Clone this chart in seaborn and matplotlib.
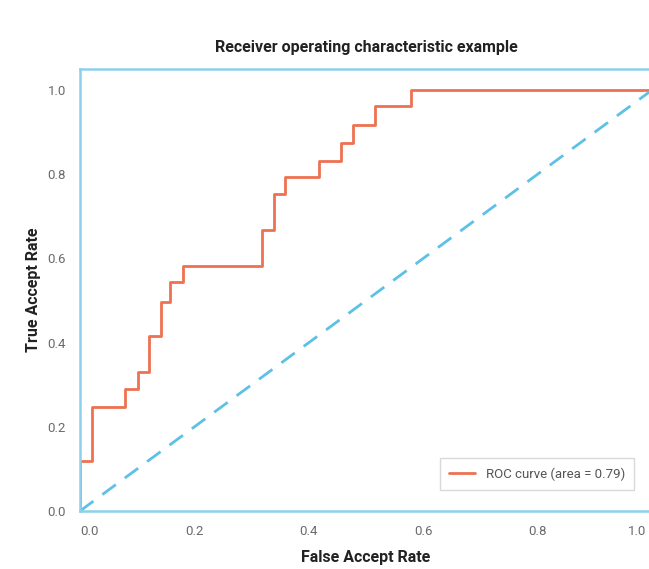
import matplotlib
matplotlib.use("Agg")
import matplotlib.pyplot as plt
import matplotlib.transforms as mtransforms
import seaborn as sns
import pandas as pd

# ROC curve vertices (False Accept Rate, True Accept Rate)
fpr = [0.0, 0.0, 0.021, 0.021, 0.079, 0.079, 0.101, 0.101, 0.121, 0.121,
       0.142, 0.142, 0.157, 0.157, 0.180, 0.180, 0.319, 0.319, 0.339, 0.339,
       0.358, 0.358, 0.418, 0.418, 0.456, 0.456, 0.478, 0.478, 0.516, 0.516,
       0.578, 0.578, 1.0]
tpr = [0.0, 0.118, 0.118, 0.247, 0.247, 0.289, 0.289, 0.331, 0.331, 0.415,
       0.415, 0.496, 0.496, 0.543, 0.543, 0.583, 0.583, 0.667, 0.667, 0.752,
       0.752, 0.794, 0.794, 0.832, 0.832, 0.875, 0.875, 0.916, 0.916, 0.963,
       0.963, 1.0, 1.0]
chance_x = [0.0, 1.0]
chance_y = [0.0, 1.0]
roc_auc = 0.79
xticks = [0.0, 0.2, 0.4, 0.6, 0.8, 1.0]
yticks = [0.0, 0.2, 0.4, 0.6, 0.8, 1.0]

sns.set_theme(style="white")
plt.rcParams["font.family"] = ["Roboto", "DejaVu Sans"]

fig = plt.figure(figsize=(6.49, 5.69), dpi=100)
ax = fig.add_axes([80 / 649, 58 / 569, 572 / 649, 442 / 569])

df = pd.DataFrame({"fpr": fpr, "tpr": tpr})
sns.lineplot(data=df, x="fpr", y="tpr", sort=False, estimator=None, ax=ax,
             color="#EE7152", linewidth=2.0,
             label="ROC curve (area = %0.2f)" % roc_auc)
sns.lineplot(x=chance_x, y=chance_y, sort=False, estimator=None, ax=ax,
             color="#5DC1E6", linewidth=2.0, linestyle=(0, (6, 4)))

ax.set_xlim(0.0, 1.0)
ax.set_ylim(0.0, 1.05)
ax.set_xticks(xticks)
ax.set_yticks(yticks)
ax.set_xticklabels(["%.1f" % t for t in xticks])
ax.set_yticklabels(["%.1f" % t for t in yticks])
ax.tick_params(axis="both", length=0, labelsize=9.5, labelcolor="#6a6a6a")
ax.tick_params(axis="x", pad=10)
ax.tick_params(axis="y", pad=10)
xl = ax.get_xticklabels()
xl[0].set_horizontalalignment("left")
xl[-1].set_horizontalalignment("right")
shift = mtransforms.ScaledTranslation(-6 / 100, 0, fig.dpi_scale_trans)
xl[-1].set_transform(xl[-1].get_transform() + shift)

for side in ["left", "bottom", "top", "right"]:
    ax.spines[side].set_color("#8DD0EC")
    ax.spines[side].set_linewidth(1.8)

ax.set_xlabel("False Accept Rate", fontsize=11.5, fontweight="bold",
              color="#222222", labelpad=9)
ax.set_ylabel("True Accept Rate", fontsize=11.5, fontweight="bold",
              color="#222222", labelpad=5)
ax.set_title("Receiver operating characteristic example", fontsize=11.5,
             fontweight="bold", color="#222222", pad=12)

leg = ax.legend(loc="lower right", bbox_to_anchor=(0.969, 0.047),
                fontsize=9.5, frameon=True, fancybox=False,
                handlelength=2.0, borderpad=0.7, borderaxespad=0.0)
leg.get_frame().set_edgecolor("#d0d0d0")
leg.get_frame().set_linewidth(1.0)
for t in leg.get_texts():
    t.set_color("#555555")

fig.savefig("out.png", dpi=100)
